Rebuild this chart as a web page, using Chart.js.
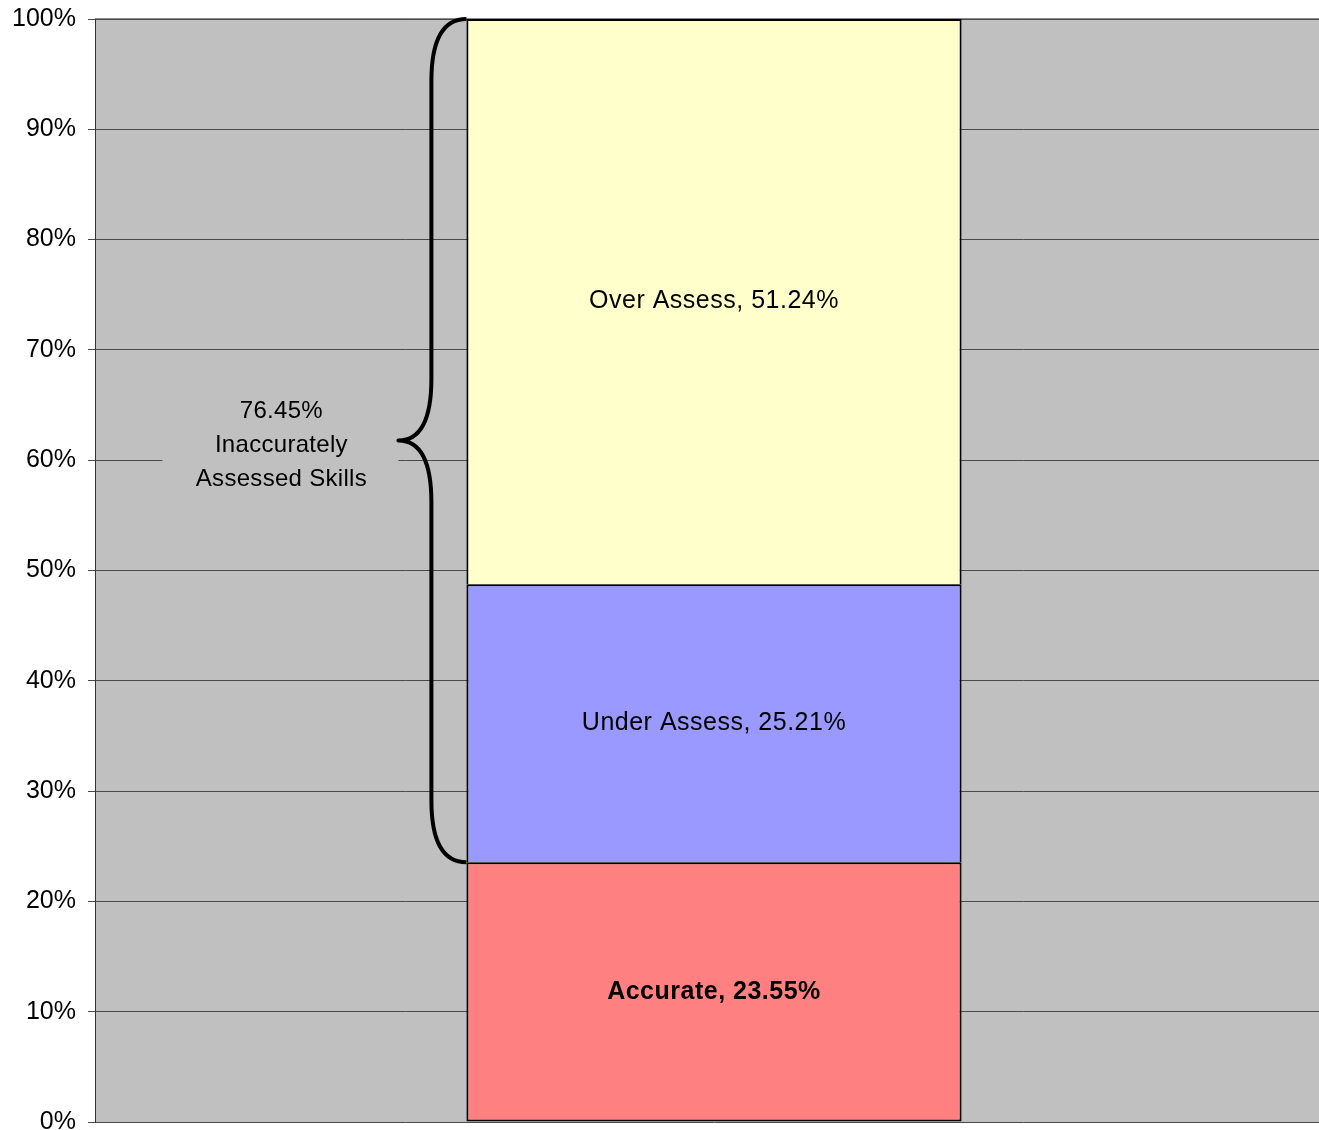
<!DOCTYPE html>
<html>
<head>
<meta charset="utf-8">
<script src="https://cdn.jsdelivr.net/npm/chart.js@4.4.0/dist/chart.umd.min.js"></script>
<style>
  html, body { margin: 0; padding: 0; background: #fff; overflow: hidden; }
  #chart { display: block; }
</style>
</head>
<body>
<canvas id="chart" width="1333" height="1130"></canvas>
<script>
// data
const categories = ["Skills"];
const seriesNames = ["Accurate", "Under Assess", "Over Assess"];
const seriesValues = [23.55, 25.21, 51.24];
const seriesColors = ["#FF8080", "#9999FF", "#FFFFCC"];
const boldLabels = [true, false, false];
const braceLines = ["Inaccurately", "Assessed Skills"];

const FONT = "'Liberation Sans', Arial, Helvetica, sans-serif";

const inaccurate = (seriesValues[1] + seriesValues[2]).toFixed(2) + "%";

const datasets = seriesNames.map((name, i) => ({
    label: name,
    data: [seriesValues[i]],
    backgroundColor: seriesColors[i],
    borderColor: "#000",
    borderWidth: 2,
    // upper segments share the edge of the one below, so skip their bottom line
    borderSkipped: i === 0 ? false : "bottom",
    barPercentage: 0.40,
    categoryPercentage: 1.0,
}));

// plot background
const plotBackground = {
    id: "plotBackground",
    beforeDraw(chart) {
        const { ctx, chartArea: a } = chart;
        ctx.save();
        ctx.fillStyle = "#C0C0C0";
        ctx.fillRect(a.left, a.top, a.right - a.left, a.bottom - a.top);
        ctx.strokeStyle = "#8a8a8a";
        ctx.lineWidth = 2;
        ctx.beginPath();
        ctx.moveTo(a.left, a.top);
        ctx.lineTo(a.right, a.top);
        ctx.stroke();
        ctx.restore();
    }
};

// segment labels
const segmentLabels = {
    id: "segmentLabels",
    afterDatasetsDraw(chart) {
        const { ctx } = chart;
        ctx.save();
        ctx.fillStyle = "#000";
        ctx.textAlign = "center";
        ctx.textBaseline = "middle";
        ctx.letterSpacing = "0.5px";
        chart.data.datasets.forEach((ds, i) => {
            const el = chart.getDatasetMeta(i).data[0];
            ctx.font = (boldLabels[i] ? "bold " : "") + "25px " + FONT;
            const txt = ds.label + ", " + ds.data[0].toFixed(2) + "%";
            ctx.fillText(txt, el.x, (el.y + el.base) / 2);
        });
        ctx.restore();
    }
};

// curly brace over the inaccurate part + its text box
const braceNote = {
    id: "braceNote",
    beforeDatasetsDraw(chart) {
        const { ctx } = chart;
        const y = chart.scales.y;
        const el = chart.getDatasetMeta(0).data[0];
        const barLeft = el.x - el.width / 2;
        const yMid = (y.getPixelForValue(100) + y.getPixelForValue(seriesValues[0])) / 2;
        const cx = barLeft - 185;
        ctx.save();
        ctx.fillStyle = "#C0C0C0";
        ctx.fillRect(cx - 119, yMid - 45, 236, 90);
        ctx.fillStyle = "#000";
        ctx.textAlign = "center";
        ctx.textBaseline = "middle";
        ctx.letterSpacing = "0.3px";
        ctx.font = "24px " + FONT;
        [inaccurate].concat(braceLines).forEach((t, k) => {
            ctx.fillText(t, cx, yMid - 29 + k * 34);
        });
        ctx.restore();
    },
    afterDatasetsDraw(chart) {
        const { ctx } = chart;
        const y = chart.scales.y;
        const el = chart.getDatasetMeta(0).data[0];
        const barLeft = el.x - el.width / 2;
        const yTop = y.getPixelForValue(100);
        const yBot = y.getPixelForValue(seriesValues[0]);
        const yMid = (yTop + yBot) / 2;
        const xv = barLeft - 35;
        const xt = barLeft - 68;
        const r = 62;
        ctx.save();
        ctx.strokeStyle = "#000";
        ctx.lineWidth = 4;
        ctx.lineJoin = "round";
        ctx.beginPath();
        ctx.moveTo(barLeft, yTop);
        ctx.quadraticCurveTo(xv, yTop, xv, yTop + r);
        ctx.lineTo(xv, yMid - r);
        ctx.quadraticCurveTo(xv, yMid, xt, yMid);
        ctx.quadraticCurveTo(xv, yMid, xv, yMid + r);
        ctx.lineTo(xv, yBot - r);
        ctx.quadraticCurveTo(xv, yBot, barLeft, yBot);
        ctx.stroke();
        ctx.restore();
    }
};

new Chart(document.getElementById("chart"), {
    type: "bar",
    data: { labels: categories, datasets: datasets },
    options: {
        responsive: false,
        animation: false,
        layout: { padding: { top: 19, bottom: 8, left: 0, right: 0 } },
        plugins: {
            legend: { display: false },
            tooltip: { enabled: false },
        },
        scales: {
            x: {
                stacked: true,
                display: false,
            },
            y: {
                stacked: true,
                min: 0,
                max: 100,
                afterFit(scale) {
                    scale.width = 95;
                    scale.paddingTop = 0;
                    scale.paddingBottom = 0;
                },
                ticks: {
                    stepSize: 10,
                    padding: 12,
                    color: "#000",
                    font: { family: FONT, size: 25 },
                    callback: v => v + "%",
                },
                grid: {
                    color: "#4a4a4a",
                    lineWidth: 1,
                    tickLength: 7,
                },
                border: { color: "#333", width: 1 },
            },
        },
    },
    plugins: [plotBackground, braceNote, segmentLabels],
});
</script>
</body>
</html>
